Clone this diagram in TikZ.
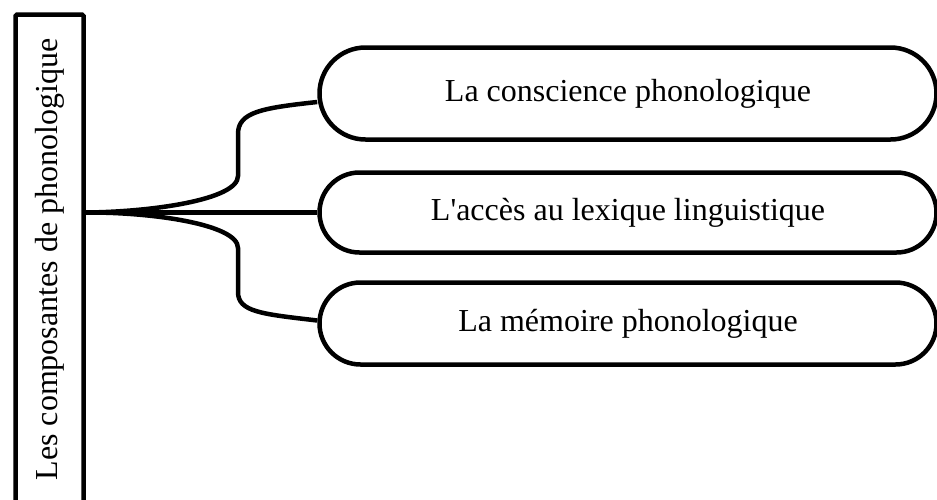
\documentclass[tikz,border=0pt]{standalone}
\usepackage{fontspec}
\setmainfont{Liberation Serif}[Ligatures=TeXOff]
\usetikzlibrary{calc}
\tikzset{
  pill/.style={draw, line width=4.5pt, inner sep=0pt, minimum width=617pt,
    font=\fontsize{32}{38}\selectfont},
  link/.style={line width=4.5pt}
}

\begin{document}
\begin{tikzpicture}[x=1pt, y=-1pt]
    \useasboundingbox (0,0) rectangle (937,499);

                \node[draw, line width=4.5pt, rounded corners=1.5pt, rotate=90, inner sep=0pt,
                      minimum width=490pt, minimum height=68pt,
                      font=\fontsize{32}{38}\selectfont] (title) at (49.5,259.5) {Les composantes de phonologique};

                \node[pill, minimum height=92pt, rounded corners=46pt] (b1) at (628,93.5) {La conscience phonologique};
                \node[pill, minimum height=80pt, rounded corners=40pt] (b2) at (628,212.5) {L'accès au lexique linguistique};
                \node[pill, minimum height=82pt, rounded corners=41pt] (b3) at (628,323.5) {La mémoire phonologique};

                \coordinate (root) at (title.south |- b2.west);

                % branches of the brace
                \draw[link] (root) .. controls (150,212) and (238,200) .. (238,176)
                    -- (238,134) .. controls (238,112) and (262,108) .. ([yshift=-8.5pt]b1.west);
                \draw[link] (root) -- (b2.west);
                \draw[link] (root) .. controls (150,212) and (238,224) .. (238,248)
                    -- (238,292) .. controls (238,312) and (262,314) .. ([yshift=3pt]b3.west);

            \end{tikzpicture}
\end{document}
